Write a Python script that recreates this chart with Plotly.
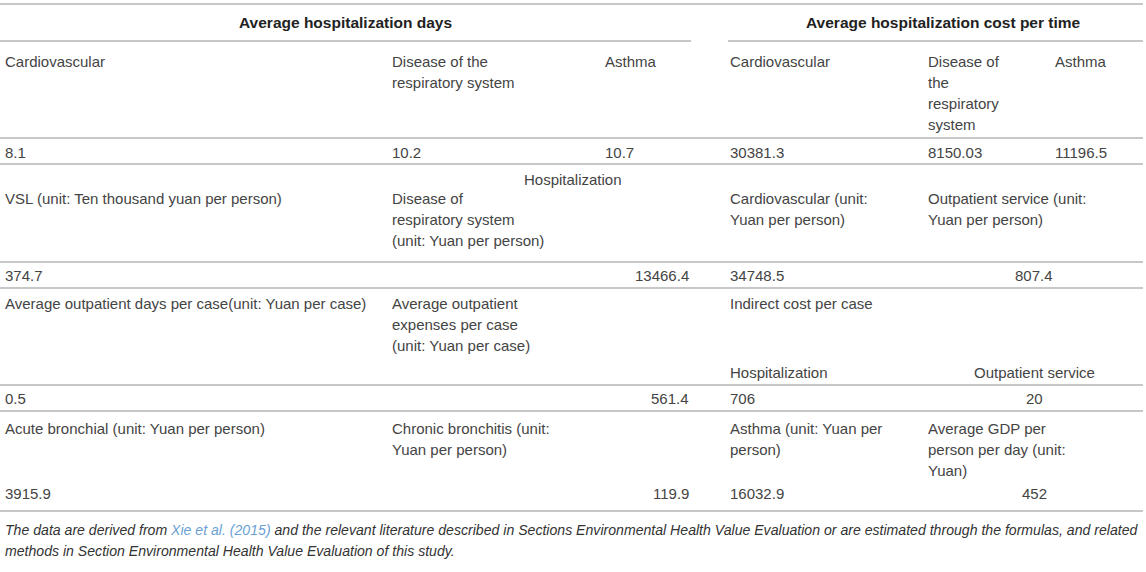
import plotly.graph_objects as go

# table text and values
group_titles = ["Average hospitalization days", "Average hospitalization cost per time"]
disease_names = ["Cardiovascular", "Disease of the\nrespiratory system", "Asthma",
                 "Cardiovascular", "Disease of\nthe\nrespiratory\nsystem", "Asthma"]
hosp_days = [8.1, 10.2, 10.7]
hosp_cost = [30381.3, 8150.03, 11196.5]
section_title = "Hospitalization"
unit_labels = ["VSL (unit: Ten thousand yuan per person)",
               "Disease of\nrespiratory system\n(unit: Yuan per person)",
               "Cardiovascular (unit:\nYuan per person)",
               "Outpatient service (unit:\nYuan per person)"]
unit_values = [374.7, 13466.4, 34748.5, 807.4]
outpatient_labels = ["Average outpatient days per case(unit: Yuan per case)",
                     "Average outpatient\nexpenses per case\n(unit: Yuan per case)",
                     "Indirect cost per case"]
indirect_labels = ["Hospitalization", "Outpatient service"]
outpatient_values = [0.5, 561.4, 706, 20]
illness_labels = ["Acute bronchial (unit: Yuan per person)",
                  "Chronic bronchitis (unit:\nYuan per person)",
                  "Asthma (unit: Yuan per\nperson)",
                  "Average GDP per\nperson per day (unit:\nYuan)"]
illness_values = [3915.9, 119.9, 16032.9, 452]
footnote = ["The data are derived from <span style='color:#6a9fd4'>Xie et al. (2015)</span> and the relevant "
            "literature described in Sections Environmental Health Value Evaluation or are estimated through "
            "the formulas, and related",
            "methods in Section Environmental Health Value Evaluation of this study."]

# layout of the table (pixels)
W, H = 1146, 572
col_x = [3, 390, 603, 728, 926, 1053]
right_x = 691      # right edge of the left block
mid_x = 1034       # centre of the last two columns
LINE = 21
TXT = "#444444"
RULE = "#b4b4b4"

fig = go.Figure()


def cell(text, x, y, align="left", bold=False, size=15):
    for i, part in enumerate(str(text).split("\n")):
        t = f"<b>{part}</b>" if bold else part
        fig.add_annotation(x=x, y=y + i * LINE, text=t, showarrow=False,
                           xanchor=align, yanchor="middle",
                           font=dict(size=size, color="#222" if bold else TXT))


def rule(y, x0=0, x1=1143):
    fig.add_shape(type="line", x0=x0, x1=x1, y0=y, y1=y,
                  line=dict(color=RULE, width=1.5))


# group headers
rule(4)
cell(group_titles[0], right_x / 2, 22, "center", True, 15.5)
cell(group_titles[1], 943, 22, "center", True, 15.5)
rule(41, 0, right_x)
rule(41, col_x[3], 1143)

# diseases / hospitalization days & costs
for x, name in zip(col_x, disease_names):
    cell(name, x, 61)
rule(138)
for x, v in zip(col_x, hosp_days + hosp_cost):
    cell(v, x, 152)
rule(164)

# hospitalization block
cell(section_title, W / 2, 179, "center")
cell(unit_labels[0], col_x[0], 198)
cell(unit_labels[1], col_x[1], 198)
cell(unit_labels[2], col_x[3], 198)
cell(unit_labels[3], col_x[4], 198)
rule(262)
cell(unit_values[0], col_x[0], 275)
cell(unit_values[1], right_x, 275, "right")
cell(unit_values[2], col_x[3], 275)
cell(unit_values[3], mid_x, 275, "center")
rule(288)

# outpatient block
cell(outpatient_labels[0], col_x[0], 303)
cell(outpatient_labels[1], col_x[1], 303)
cell(outpatient_labels[2], col_x[3], 303)
cell(indirect_labels[0], col_x[3], 372)
cell(indirect_labels[1], mid_x, 372, "center")
rule(385)
cell(outpatient_values[0], col_x[0], 398)
cell(outpatient_values[1], right_x, 398, "right")
cell(outpatient_values[2], col_x[3], 398)
cell(outpatient_values[3], mid_x, 398, "center")
rule(411)

# illness block
cell(illness_labels[0], col_x[0], 428)
cell(illness_labels[1], col_x[1], 428)
cell(illness_labels[2], col_x[3], 428)
cell(illness_labels[3], col_x[4], 428)
cell(illness_values[0], col_x[0], 493)
cell(illness_values[1], right_x, 493, "right")
cell(illness_values[2], col_x[3], 493)
cell(illness_values[3], mid_x, 493, "center")
rule(511)

for i, line in enumerate(footnote):
    fig.add_annotation(x=3, y=530 + i * 21, text=f"<i>{line}</i>", showarrow=False,
                       xanchor="left", yanchor="middle",
                       font=dict(size=14.1, color="#333"))

fig.update_layout(
    width=W, height=H,
    margin=dict(l=0, r=0, t=0, b=0),
    paper_bgcolor="white", plot_bgcolor="white",
    font=dict(family="Liberation Sans, Arial, sans-serif"),
    xaxis=dict(range=[0, W], visible=False, fixedrange=True),
    yaxis=dict(range=[H, 0], visible=False, fixedrange=True),
    showlegend=False,
)

fig.write_html("out.html", config={"displayModeBar": False},
               post_script="document.body.style.margin='0';document.body.style.overflow='hidden';")
